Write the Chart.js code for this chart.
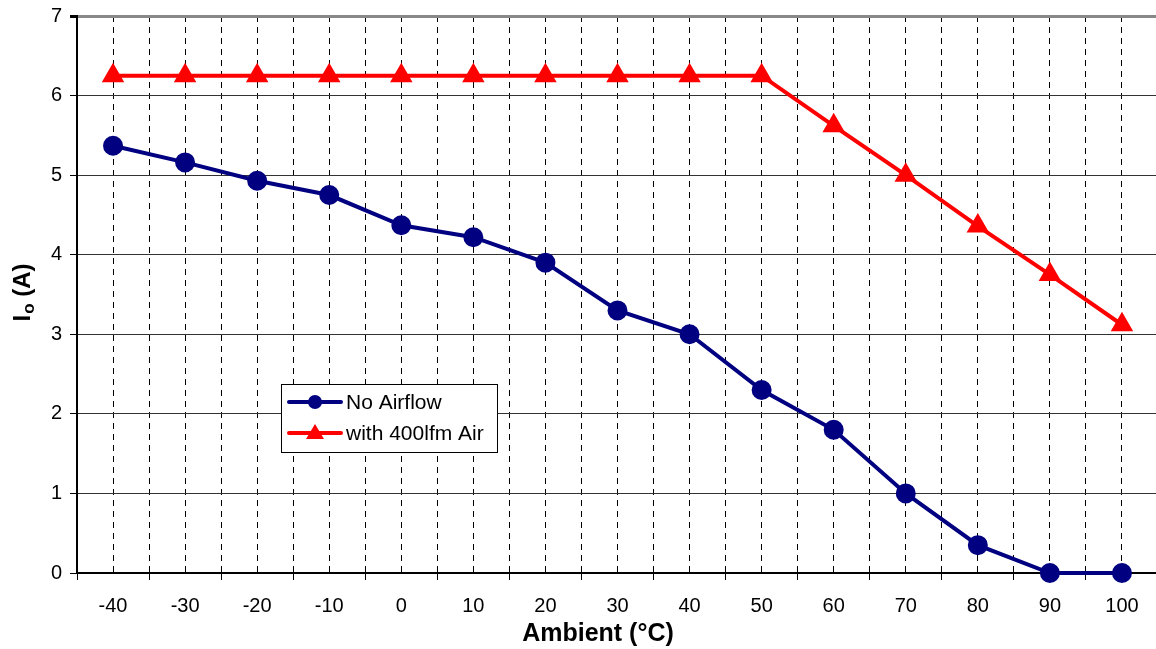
<!DOCTYPE html>
<html>
<head>
<meta charset="utf-8">
<script src="https://cdn.jsdelivr.net/npm/chart.js@4"></script>
<style>
  body { margin: 0; overflow: hidden; background: #fff; }
</style>
</head>
<body>
<canvas id="myChart" width="1171" height="649"></canvas>
<script>
// ambient temperature (°C)
let ambient = [-40, -30, -20, -10, 0, 10, 20, 30, 40, 50, 60, 70, 80, 90, 100];
let noAirflow = [5.37, 5.16, 4.93, 4.75, 4.37, 4.22, 3.9, 3.3, 3.0, 2.3, 1.8, 1.0, 0.35, 0, 0];
let withAir = [6.25, 6.25, 6.25, 6.25, 6.25, 6.25, 6.25, 6.25, 6.25, 6.25, 5.62, 5.0, 4.36, 3.75, 3.12];
let yTicks = [0, 1, 2, 3, 4, 5, 6, 7];

function toPoints(values) {
  return values.map((v, i) => {
    return { x: ambient[i], y: v };
  });
}

let fontFam = '"Liberation Sans", Arial, sans-serif';

// axis titles (y has a subscript) + legend box inside the plot
let extras = {
  id: 'extras',
  afterDraw(chart) {
    let ctx = chart.ctx;
    ctx.save();
    ctx.fillStyle = '#000';
    ctx.textAlign = 'center';
    ctx.textBaseline = 'middle';
    ctx.font = 'bold 25px ' + fontFam;
    ctx.fillText('Ambient (°C)', 598, 634);
    ctx.restore();

    ctx.save();
    // y axis title  "Io (A)"
    ctx.translate(23, 293);
    ctx.rotate(-Math.PI / 2);
    ctx.fillStyle = '#000';
    ctx.textBaseline = 'middle';
    ctx.font = 'bold 24px ' + fontFam;
    let w1 = ctx.measureText('I').width;
    ctx.font = 'bold 17px ' + fontFam;
    let w2 = ctx.measureText('o').width;
    ctx.font = 'bold 24px ' + fontFam;
    let w3 = ctx.measureText(' (A)').width;
    let x0 = -(w1 + w2 + w3) / 2;
    ctx.textAlign = 'left';
    ctx.fillText('I', x0, 0);
    ctx.font = 'bold 17px ' + fontFam;
    ctx.fillText('o', x0 + w1 + 1, 6);
    ctx.font = 'bold 24px ' + fontFam;
    ctx.fillText(' (A)', x0 + w1 + w2 + 1, 0);
    ctx.restore();

    // legend
    ctx.save();
    ctx.fillStyle = '#fff';
    ctx.fillRect(281, 384, 216, 68);
    ctx.strokeStyle = '#000';
    ctx.lineWidth = 1;
    ctx.strokeRect(281.5, 384.5, 216, 68);
    let rows = [
      { y: 402, color: '#000080', label: 'No Airflow', shape: 'circle' },
      { y: 433, color: '#ff0000', label: 'with 400lfm Air', shape: 'tri' }
    ];
    rows.forEach((r) => {
      ctx.strokeStyle = r.color;
      ctx.fillStyle = r.color;
      ctx.lineWidth = 4;
      ctx.lineCap = 'round';
      ctx.beginPath();
      ctx.moveTo(289, r.y);
      ctx.lineTo(341, r.y);
      ctx.stroke();
      ctx.beginPath();
      if (r.shape === 'circle') {
        ctx.arc(315, r.y, 7, 0, Math.PI * 2);
      } else {
        ctx.moveTo(315, r.y - 9);
        ctx.lineTo(324, r.y + 6);
        ctx.lineTo(306, r.y + 6);
        ctx.closePath();
      }
      ctx.fill();
      ctx.fillStyle = '#000';
      ctx.font = '21px ' + fontFam;
      ctx.textBaseline = 'middle';
      ctx.textAlign = 'left';
      ctx.fillText(r.label, 346, r.y + 1);
    });
    ctx.restore();
  }
};

let ctx = document.getElementById('myChart').getContext('2d');
let myChart = new Chart(ctx, {
  type: 'line',
  data: {
    datasets: [{
      label: 'No Airflow',
      data: toPoints(noAirflow),
      borderColor: '#000080',
      backgroundColor: '#000080',
      borderWidth: 4,
      pointStyle: 'circle',
      pointRadius: 8,
      pointHoverRadius: 8,
      clip: false
    }, {
      label: 'with 400lfm Air',
      data: toPoints(withAir),
      borderColor: '#ff0000',
      backgroundColor: '#ff0000',
      borderWidth: 4,
      pointStyle: 'triangle',
      pointRadius: 9,
      pointHoverRadius: 9,
      clip: false
    }]
  },
  options: {
    responsive: false,
    animation: false,
    layout: { padding: { top: 16, left: 0, right: 2, bottom: 0 } },
    plugins: {
      legend: { display: false },
      tooltip: { enabled: false }
    },
    scales: {
      x: {
        type: 'linear',
        min: -45,
        max: 105,
        afterBuildTicks: (scale) => {
          let t = [];
          for (let v = -45; v <= 105; v += 5) t.push({ value: v });
          scale.ticks = t;
        },
        afterFit: (scale) => {
          scale.height = 76;
          scale.paddingLeft = 0;
          scale.paddingRight = 0;
        },
        ticks: {
          autoSkip: false,
          maxRotation: 0,
          padding: 14,
          color: '#000',
          font: { family: fontFam, size: 20 },
          callback: (v) => (ambient.includes(v) ? String(v) : '')
        },
        grid: {
          color: '#000',
          lineWidth: 1,
          tickLength: 7,
          tickColor: (c) => (c.tick && ambient.includes(c.tick.value) ? 'rgba(0,0,0,0)' : '#000')
        },
        border: { color: '#000', width: 2, dash: [6, 5] }
      },
      y: {
        min: 0,
        max: 7,
        afterBuildTicks: (scale) => {
          scale.ticks = yTicks.map((v) => ({ value: v }));
        },
        afterFit: (scale) => {
          scale.width = 77;
          scale.paddingTop = 0;
          scale.paddingBottom = 0;
        },
        ticks: {
          padding: 8,
          color: '#000',
          font: { family: fontFam, size: 20 }
        },
        grid: {
          color: (c) => (c.tick && c.tick.value === 7 ? '#888' : '#333'),
          lineWidth: (c) => (c.tick && c.tick.value === 7 ? 3 : 1),
          tickLength: 7,
          tickColor: '#000'
        },
        border: { color: '#000', width: 2 }
      }
    }
  },
  plugins: [extras]
});
</script>
</body>
</html>
